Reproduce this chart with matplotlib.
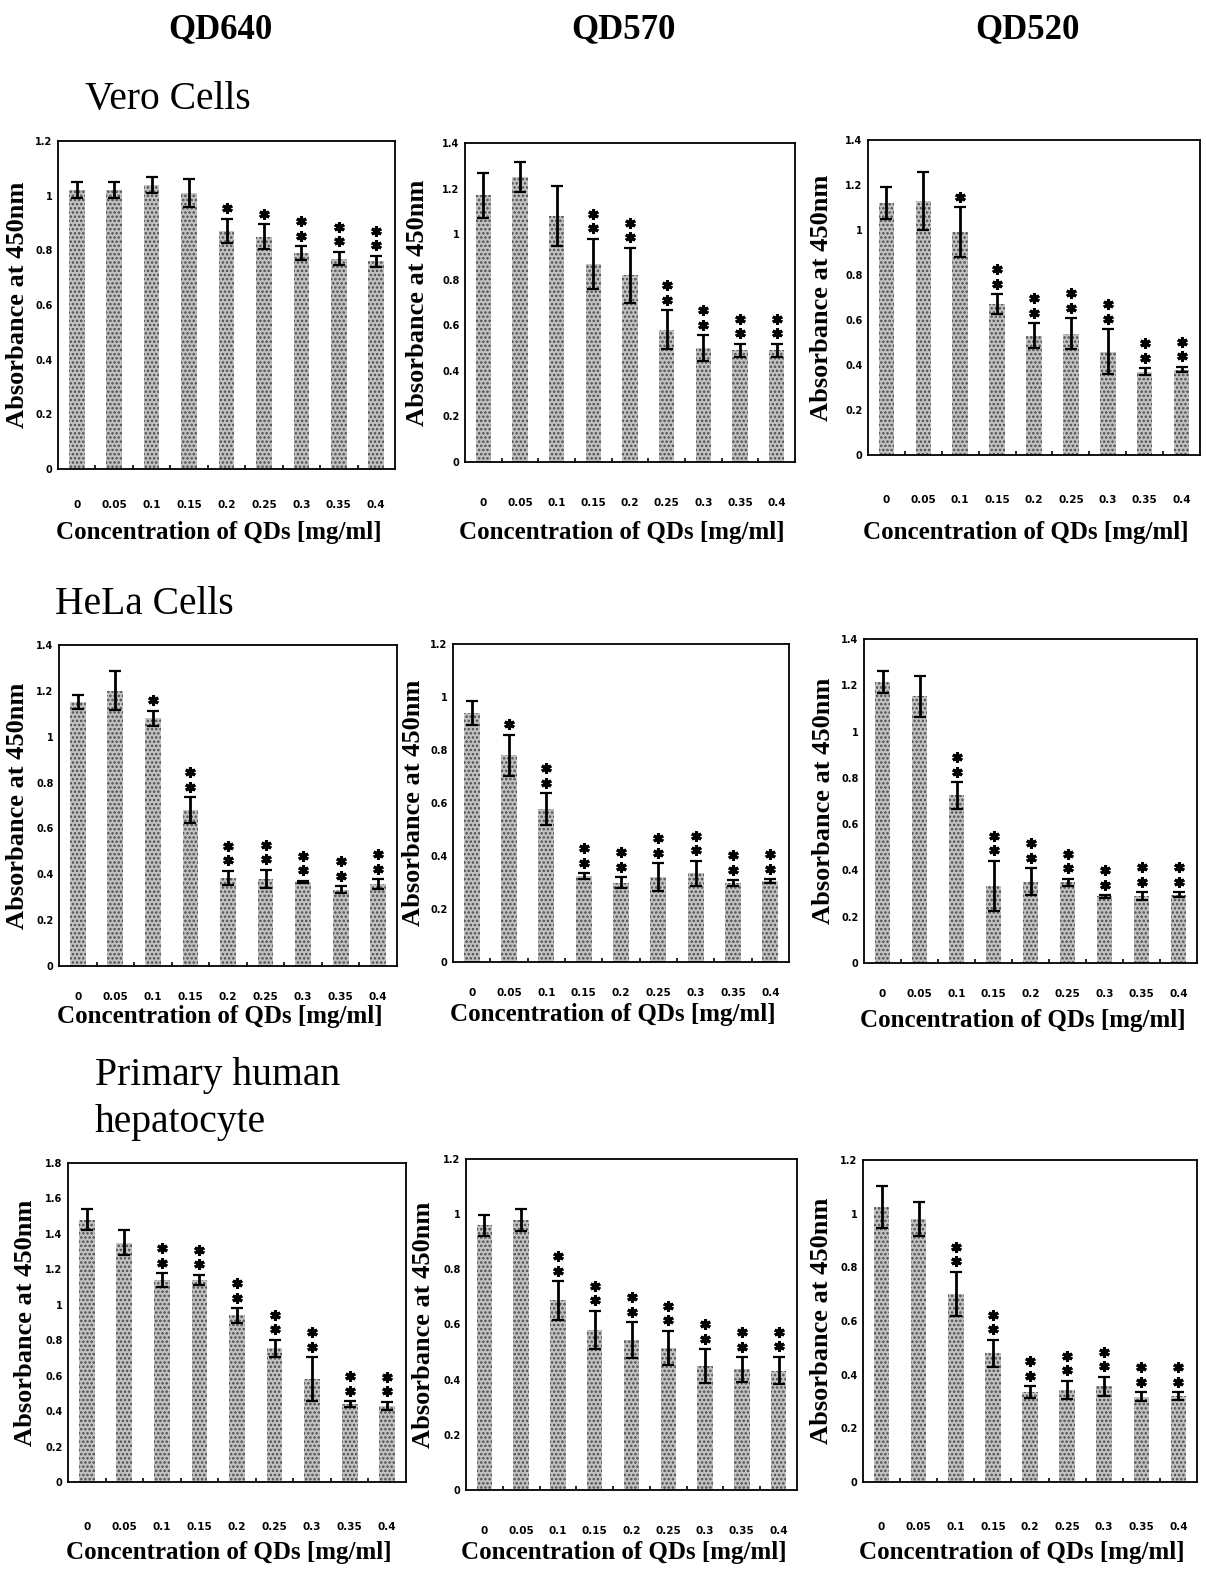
import matplotlib
matplotlib.use("Agg")
import matplotlib.pyplot as plt
from matplotlib.transforms import offset_copy
import numpy as np

plt.rcParams['font.family'] = ['Liberation Serif', 'DejaVu Serif']
plt.rcParams['hatch.linewidth'] = 1.2

conc_labels = ['0', '0.05', '0.1', '0.15', '0.2', '0.25', '0.3', '0.35', '0.4']

# Vero cells
vero_qd640_mean = [1.02, 1.02, 1.04, 1.01, 0.87, 0.85, 0.79, 0.77, 0.76]
vero_qd640_err = [0.03, 0.03, 0.03, 0.05, 0.045, 0.045, 0.025, 0.025, 0.02]
vero_qd640_stars = [0, 0, 0, 0, 1, 1, 2, 2, 2]

vero_qd570_mean = [1.17, 1.25, 1.08, 0.87, 0.82, 0.58, 0.50, 0.49, 0.49]
vero_qd570_err = [0.10, 0.065, 0.13, 0.11, 0.12, 0.085, 0.057, 0.03, 0.03]
vero_qd570_stars = [0, 0, 0, 2, 2, 2, 2, 2, 2]

vero_qd520_mean = [1.12, 1.13, 0.99, 0.67, 0.53, 0.54, 0.46, 0.37, 0.38]
vero_qd520_err = [0.07, 0.13, 0.11, 0.045, 0.056, 0.067, 0.10, 0.015, 0.012]
vero_qd520_stars = [0, 0, 1, 2, 2, 2, 2, 2, 2]

# HeLa cells
hela_qd640_mean = [1.15, 1.20, 1.08, 0.68, 0.385, 0.38, 0.366, 0.333, 0.358]
hela_qd640_err = [0.03, 0.085, 0.033, 0.055, 0.03, 0.04, 0.006, 0.016, 0.02]
hela_qd640_stars = [0, 0, 1, 2, 2, 2, 2, 2, 2]

hela_qd570_mean = [0.94, 0.78, 0.578, 0.325, 0.30, 0.32, 0.335, 0.297, 0.306]
hela_qd570_err = [0.044, 0.078, 0.06, 0.01, 0.02, 0.052, 0.048, 0.012, 0.006]
hela_qd570_stars = [0, 1, 2, 2, 2, 2, 2, 2, 2]

hela_qd520_mean = [1.214, 1.152, 0.724, 0.334, 0.351, 0.348, 0.288, 0.288, 0.295]
hela_qd520_err = [0.048, 0.09, 0.058, 0.108, 0.059, 0.017, 0.005, 0.017, 0.01]
hela_qd520_stars = [0, 0, 2, 2, 2, 2, 2, 2, 2]

# primary human hepatocytes
hep_qd640_mean = [1.48, 1.35, 1.14, 1.14, 0.94, 0.755, 0.58, 0.44, 0.43]
hep_qd640_err = [0.06, 0.07, 0.037, 0.03, 0.04, 0.047, 0.125, 0.017, 0.023]
hep_qd640_stars = [0, 0, 2, 2, 2, 2, 2, 2, 2]

hep_qd570_mean = [0.96, 0.98, 0.688, 0.58, 0.543, 0.515, 0.449, 0.437, 0.433]
hep_qd570_err = [0.038, 0.04, 0.07, 0.07, 0.065, 0.062, 0.062, 0.044, 0.05]
hep_qd570_stars = [0, 0, 2, 2, 2, 2, 2, 2, 2]

hep_qd520_mean = [1.024, 0.98, 0.70, 0.48, 0.335, 0.344, 0.356, 0.318, 0.32]
hep_qd520_err = [0.079, 0.062, 0.083, 0.05, 0.023, 0.034, 0.037, 0.017, 0.014]
hep_qd520_stars = [0, 0, 2, 2, 2, 2, 2, 2, 2]

col_titles = ['QD640', 'QD570', 'QD520']
row_titles = ['Vero Cells', 'HeLa Cells', 'Primary human\nhepatocyte']

W, H = 1206, 1569
fig = plt.figure(figsize=(W / 100, H / 100), dpi=100)

# panel boxes in pixels: left, top, right, bottom, ymax, xlabel y,
# x ticklabel pad, ylabel x
panels = [
    (58, 141, 395, 469, 1.2, 532, 22, 18, vero_qd640_mean, vero_qd640_err, vero_qd640_stars),
    (465, 143, 795, 462, 1.4, 532, 26, 418, vero_qd570_mean, vero_qd570_err, vero_qd570_stars),
    (868, 140, 1200, 455, 1.4, 532, 29, 822, vero_qd520_mean, vero_qd520_err, vero_qd520_stars),
    (59, 645, 397, 966, 1.4, 1017, 19, 18, hela_qd640_mean, hela_qd640_err, hela_qd640_stars),
    (453, 644, 789, 962, 1.2, 1015, 19, 414, hela_qd570_mean, hela_qd570_err, hela_qd570_stars),
    (864, 639, 1197, 963, 1.4, 1020, 19, 824, hela_qd520_mean, hela_qd520_err, hela_qd520_stars),
    (68, 1163, 406, 1482, 1.8, 1553, 29, 26, hep_qd640_mean, hep_qd640_err, hep_qd640_stars),
    (466, 1159, 797, 1490, 1.2, 1553, 26, 424, hep_qd570_mean, hep_qd570_err, hep_qd570_stars),
    (863, 1160, 1197, 1482, 1.2, 1553, 29, 822, hep_qd520_mean, hep_qd520_err, hep_qd520_stars),
]

x = np.arange(len(conc_labels))

for (l, t, r, b, ymax, xl_y, pad, yl_x, mean, err, stars) in panels:
    ax = fig.add_axes([l / W, 1 - b / H, (r - l) / W, (b - t) / H])
    ax.bar(x, mean, width=0.42, color='#c2c2c2', hatch='....',
           edgecolor='#4a4a4a', linewidth=0)
    ax.errorbar(x, mean, yerr=err, fmt='none', ecolor='black',
                elinewidth=2.0, capsize=4.5, capthick=1.6)

    tops = np.array(mean) + np.array(err)
    for xi, top, n in zip(x, tops, stars):
        for k in range(n):
            tr = offset_copy(ax.transData, fig=fig, y=7.5 + 10.5 * k, units='points')
            ax.plot([xi], [top], marker=(6, 2, 0), markersize=7.5,
                    markeredgewidth=2.2, color='black', transform=tr,
                    clip_on=False)

    ax.set_xlim(-0.5, len(x) - 0.5)
    ax.set_ylim(0, ymax)
    yt = np.round(np.arange(0, ymax + 0.001, 0.2), 1)
    ax.set_yticks(yt)
    ax.set_yticklabels([f'{v:g}' for v in yt], fontsize=7, fontweight='bold',
                       family='DejaVu Sans')
    ax.set_xticks(x)
    ax.set_xticklabels(conc_labels, fontsize=7.5, fontweight='bold',
                       family='DejaVu Sans')
    ax.set_xticks(x[:-1] + 0.5, minor=True)
    ax.tick_params(axis='x', which='major', length=0, pad=pad)
    ax.tick_params(axis='x', which='minor', direction='in', length=3, width=1.2)
    ax.tick_params(axis='y', length=0, pad=4)
    for s in ax.spines.values():
        s.set_linewidth(1.3)

    cx = (l + r) / 2
    fig.text(yl_x / W, 1 - (t + b) / 2 / H, 'Absorbance at 450nm',
             rotation=90, ha='center', va='center', fontsize=19, fontweight='bold')
    fig.text((cx - 8) / W, 1 - xl_y / H, 'Concentration of QDs [mg/ml]',
             ha='center', va='center', fontsize=18, fontweight='bold')

for cx, title in zip([220, 623, 1027], col_titles):
    fig.text(cx / W, 1 - 30 / H, title, ha='center', va='center',
             fontsize=25, fontweight='bold')

fig.text(85 / W, 1 - 100 / H, row_titles[0], ha='left', va='center', fontsize=28.5)
fig.text(55 / W, 1 - 605 / H, row_titles[1], ha='left', va='center', fontsize=28.5)
fig.text(95 / W, 1 - 1099 / H, row_titles[2], ha='left', va='center', fontsize=28.5,
         linespacing=1.35)

fig.savefig('out.png', dpi=100)
